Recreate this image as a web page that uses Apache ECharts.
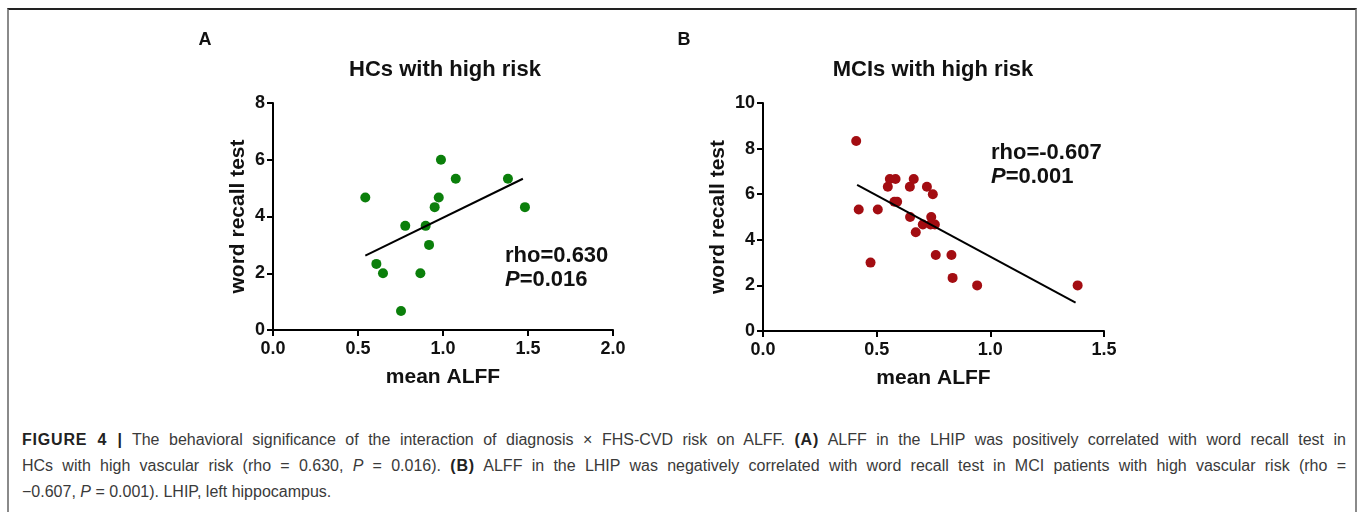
<!DOCTYPE html>
<html>
<head>
<meta charset="utf-8">
<script src="https://cdn.jsdelivr.net/npm/echarts@6/dist/echarts.min.js"></script>
<style>
  html, body { margin: 0; padding: 0; background: #fff; }
  #wrap { position: relative; width: 1358px; height: 512px; overflow: hidden; background: #fff; }
  #frame { position: absolute; left: 7px; top: 8px; width: 1346px; height: 510px;
           border-top: 2px solid #222; border-left: 2px solid #8a8a8a; border-right: 2px solid #8a8a8a; }
  #chart { position: absolute; left: 0; top: 0; width: 1358px; height: 420px; }
  #caption { position: absolute; left: 22px; top: 427px; width: 1324px;
             font-family: "Liberation Sans", Arial, sans-serif;
             font-size: 16px; color: #3a3a3a; }
  #caption .ln { height: 26px; line-height: 26px; text-align: justify; text-align-last: justify; white-space: nowrap; }
  #caption .ln.last { text-align-last: left; }
  #caption b { color: #222; letter-spacing: 0.8px; }
</style>
</head>
<body>
<div id="wrap">
  <div id="frame"></div>
  <div id="chart"></div>
  <div id="caption">
    <div class="ln" id="l1"></div>
    <div class="ln" id="l2"></div>
    <div class="ln last" id="l3"></div>
  </div>
</div>
<script>
// ---- Data ----
const hcX  = [0.543, 0.608, 0.647, 0.753, 0.778, 0.867, 0.898, 0.918, 0.951, 0.975, 0.988, 1.075, 1.382, 1.482];
const hcY  = [4.67, 2.33, 2.00, 0.67, 3.67, 2.00, 3.67, 3.00, 4.33, 4.67, 6.00, 5.33, 5.33, 4.33];
const hcFitX = [0.543, 1.470];
const hcFitY = [2.62, 5.33];

const mciX = [0.410, 0.421, 0.473, 0.505, 0.549, 0.558, 0.583, 0.578, 0.590, 0.646, 0.647, 0.663, 0.672,
              0.703, 0.721, 0.747, 0.740, 0.737, 0.756, 0.760, 0.829, 0.834, 0.942, 1.384];
const mciY = [8.33, 5.33, 3.00, 5.33, 6.33, 6.67, 6.67, 5.67, 5.67, 6.33, 5.00, 6.67, 4.33,
              4.67, 6.33, 6.00, 5.00, 4.67, 4.67, 3.33, 3.33, 2.33, 2.00, 2.00];
const mciFitX = [0.414, 1.375];
const mciFitY = [6.41, 1.24];

const panelTitles = ["HCs with high risk", "MCIs with high risk"];
const panelLetters = ["A", "B"];
const xAxisName = "mean ALFF";
const yAxisName = "word recall test";
const statsA = ["rho=0.630", "0.016"];
const statsB = ["rho=-0.607", "0.001"];

const captionL1 = '<b>FIGURE 4 |</b> The behavioral significance of the interaction of diagnosis \u00d7 FHS-CVD risk on ALFF. <b>(A)</b> ALFF in the LHIP was positively correlated with word recall test in';
const captionL2 = 'HCs with high vascular risk (rho = 0.630, <i>P</i> = 0.016). <b>(B)</b> ALFF in the LHIP was negatively correlated with word recall test in MCI patients with high vascular risk (rho =';
const captionL3 = '\u22120.607, <i>P</i> = 0.001). LHIP, left hippocampus.';

document.getElementById('l1').innerHTML = captionL1;
document.getElementById('l2').innerHTML = captionL2;
document.getElementById('l3').innerHTML = captionL3;

const zip = (a, b) => a.map((v, i) => [v, b[i]]);
const FONT = '"Liberation Sans", Arial, sans-serif';

function xAx(idx, max, gap) {
  return {
    type: 'value', gridIndex: idx, min: 0, max: max, interval: 0.5,
    name: xAxisName, nameLocation: 'middle', nameGap: gap,
    nameTextStyle: { fontFamily: FONT, fontWeight: 'bold', fontSize: 21, color: '#111' },
    axisLine: { show: true, onZero: false, lineStyle: { color: '#000', width: 2 } },
    axisTick: { show: true, length: 6, lineStyle: { color: '#000', width: 2 } },
    axisLabel: { fontFamily: FONT, fontWeight: 'bold', fontSize: 18, color: '#111', margin: 10,
                 formatter: v => v.toFixed(1) },
    splitLine: { show: false }
  };
}
function yAx(idx, max, gap) {
  return {
    type: 'value', gridIndex: idx, min: 0, max: max, interval: 2,
    name: yAxisName, nameLocation: 'middle', nameGap: gap, nameRotate: 90,
    nameTextStyle: { fontFamily: FONT, fontWeight: 'bold', fontSize: 21, color: '#111' },
    axisLine: { show: true, onZero: false, lineStyle: { color: '#000', width: 2 } },
    axisTick: { show: true, length: 6, lineStyle: { color: '#000', width: 2 } },
    axisLabel: { fontFamily: FONT, fontWeight: 'bold', fontSize: 18, color: '#111', margin: 8 },
    splitLine: { show: false }
  };
}

function txt(x, y, text, size, align, italic) {
  return { type: 'text', x: x, y: y, style: { text: text, fill: '#111', font: (italic ? 'italic ' : '') + 'bold ' + size + 'px ' + FONT,
           align: align, verticalAlign: 'middle' } };
}
function ptxt(x, y, val) {
  return { type: 'text', x: x, y: y, style: {
    rich: { i: { font: 'italic bold 22px ' + FONT, fill: '#111' }, n: { font: 'bold 22px ' + FONT, fill: '#111' } },
    text: '{i|P}{n|=' + val + '}', verticalAlign: 'middle', align: 'left' } };
}

const chart = echarts.init(document.getElementById('chart'), null, { renderer: 'canvas' });
chart.setOption({
  animation: false,
  grid: [
    { left: 273, top: 103, width: 340, height: 227 },
    { left: 763, top: 103, width: 341, height: 228 }
  ],
  xAxis: [ xAx(0, 2.0, 37), xAx(1, 1.5, 37) ],
  yAxis: [ yAx(0, 8, 24), yAx(1, 10, 34) ],
  series: [
    { type: 'line', xAxisIndex: 0, yAxisIndex: 0, data: zip(hcFitX, hcFitY), symbol: 'none',
      lineStyle: { color: '#000', width: 2 }, z: 3 },
    { type: 'scatter', xAxisIndex: 0, yAxisIndex: 0, data: zip(hcX, hcY), symbolSize: 10,
      itemStyle: { color: '#0b7f0b', opacity: 1 }, z: 2 },
    { type: 'line', xAxisIndex: 1, yAxisIndex: 1, data: zip(mciFitX, mciFitY), symbol: 'none',
      lineStyle: { color: '#000', width: 2 }, z: 3 },
    { type: 'scatter', xAxisIndex: 1, yAxisIndex: 1, data: zip(mciX, mciY), symbolSize: 10,
      itemStyle: { color: '#a30d12', opacity: 1 }, z: 2 }
  ],
  graphic: [
    txt(205, 40, panelLetters[0], 18, 'center'),
    txt(684, 40, panelLetters[1], 18, 'center'),
    txt(445, 70, panelTitles[0], 22, 'center'),
    txt(933, 70, panelTitles[1], 22, 'center'),
    txt(505, 256, statsA[0], 22, 'left'),
    ptxt(505, 280, statsA[1]),
    txt(991, 153, statsB[0], 22, 'left'),
    ptxt(991, 177, statsB[1])
  ]
});
</script>
</body>
</html>
